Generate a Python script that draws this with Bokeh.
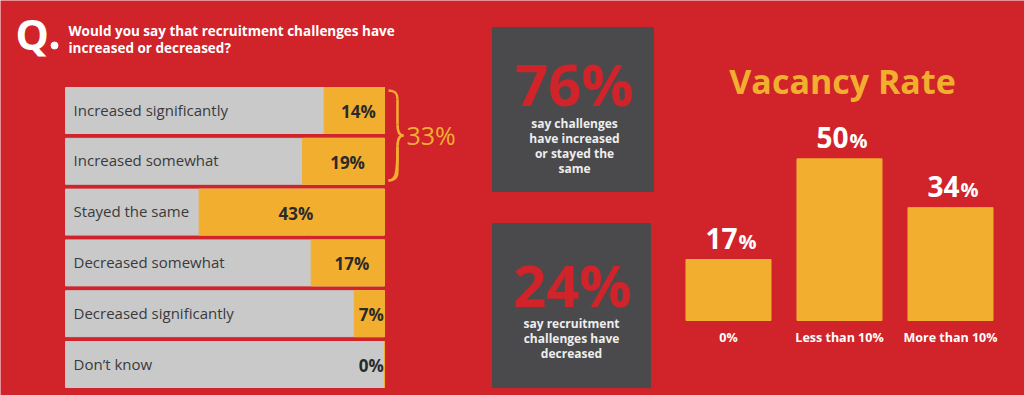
from bokeh.plotting import figure
from bokeh.models import Range1d, ColumnDataSource
from bokeh.core.properties import value
from bokeh.embed import file_html
from bokeh.resources import INLINE

# ---------------- data ----------------
question_lines = ["Would you say that recruitment challenges have", "increased or decreased?"]
answers = ["Increased significantly", "Increased somewhat", "Stayed the same",
           "Decreased somewhat", "Decreased significantly", "Don\u2019t know"]
answer_pct = [14, 19, 43, 17, 7, 0]
bracket_label = "33%"
stat_pct = ["76%", "24%"]
stat_notes = [["say challenges", "have increased", "or stayed the", "same"],
              ["say recruitment", "challenges have", "decreased"]]
vacancy_title = "Vacancy Rate"
vacancy_cats = ["0%", "Less than 10%", "More than 10%"]
vacancy_pct = [17, 50, 34]

# ---------------- style ----------------
RED = "#D1232A"
ORANGE = "#F2AF2F"
GRAY = "#C9C9CA"
DARK = "#4A4A4C"
TXT = "#2A2A2A"
FONT = value("Open Sans")

W, H = 1024, 395
p = figure(width=W, height=H, x_range=Range1d(0, W), y_range=Range1d(H, 0),
           output_backend="svg", toolbar_location=None, min_border=0,
           x_axis_location=None, y_axis_location=None,
           background_fill_color=RED, border_fill_color=RED, outline_line_color=None)
p.grid.visible = False

# ---------- header ----------
p.text(x=[15], y=[33], text=["Q"], text_font=FONT, text_font_style="bold",
       text_font_size="42px", text_color="white", text_baseline="middle")
p.scatter(x=[54], y=[45], size=7, color="white")
p.text(x=[68, 68], y=[30.5, 47.5], text=question_lines, text_font=FONT, text_font_style="bold",
       text_font_size="13.5px", text_color="white", text_baseline="middle")

# ---------- horizontal bars ----------
HX0, HX_PX = 384, 4.31
ROW0, ROW_PX = 110, 50.8
GRAY_SPAN = 74
p.extra_x_ranges["hx"] = Range1d((0 - HX0) / HX_PX, (W - HX0) / HX_PX)
p.extra_y_ranges["hy"] = Range1d((H - ROW0) / ROW_PX, (0 - ROW0) / ROW_PX)

hsrc = ColumnDataSource(dict(
    y=list(range(len(answers))),
    neg=[-v for v in answer_pct],
    lx=[-max(v, 8) / 2 for v in answer_pct],
    label=[f"{v}%" for v in answer_pct],
    ans=answers,
))
p.hbar(y="y", left=-GRAY_SPAN, right=0, height=0.905, source=hsrc, color=GRAY,
       x_range_name="hx", y_range_name="hy")
p.hbar(y="y", left="neg", right=0, height=0.905, source=hsrc, color=ORANGE,
       x_range_name="hx", y_range_name="hy")
p.text(x=-GRAY_SPAN, y="y", text="ans", source=hsrc, x_offset=8, y_offset=-1,
       text_font=FONT, text_font_size="15px", text_color="#3A3A3A",
       text_baseline="middle", x_range_name="hx", y_range_name="hy")
p.text(x="lx", y="y", text="label", source=hsrc, x_offset=4, y_offset=1,
       text_font=FONT, text_font_style="bold", text_font_size="17px", text_color=TXT,
       text_align="center", text_baseline="middle", x_range_name="hx", y_range_name="hy")

# bracket
bx = dict(line_color=ORANGE, line_width=2.5)
p.bezier(x0=[388, 397, 397, 403], y0=[90, 124, 146, 135],
         x1=[397, 403, 388, 397], y1=[99, 135, 180, 146],
         cx0=[395, 397, 397, 399], cy0=[90, 131, 175, 135],
         cx1=[397, 399, 395, 397], cy1=[93, 135, 180, 139], **bx)
p.segment(x0=[397, 397], y0=[99, 146], x1=[397, 397], y1=[124, 171], **bx)
p.bezier(x0=[397], y0=[171], x1=[388], y1=[180], cx0=[397], cy0=[177], cx1=[395], cy1=[180], **bx)
p.text(x=[406], y=[134], text=[bracket_label], text_font=FONT, text_font_size="25px",
       text_color=ORANGE, text_baseline="middle")

# ---------- stat boxes ----------
p.quad(left=[492, 492], right=[653, 650], top=[27, 223], bottom=[191, 387], color=DARK)
p.text(x=[574, 572], y=[83, 284], text=stat_pct, text_font=FONT, text_font_style="bold",
       text_font_size="58px", text_color=RED, text_align="center", text_baseline="middle")
for i, lines in enumerate(stat_notes):
    cx = [574, 571][i]
    y0 = [123, 323][i]
    p.text(x=[cx] * len(lines), y=[y0 + 15 * k for k in range(len(lines))], text=lines,
           text_font=FONT, text_font_style="bold", text_font_size="12px",
           text_color="#EEEEEE", text_align="center", text_baseline="middle")

# ---------- vacancy chart ----------
VX0, VX_PX = 728, 111
VY0, VY_PX = 320, 3.05
BAR_BASE = -3
p.extra_x_ranges["vx"] = Range1d((0 - VX0) / VX_PX, (W - VX0) / VX_PX)
p.extra_y_ranges["vy"] = Range1d(BAR_BASE + (VY0 - H) / VY_PX, BAR_BASE + (VY0 - 0) / VY_PX)

vsrc = ColumnDataSource(dict(x=list(range(len(vacancy_cats))), top=vacancy_pct,
                             num=[str(v) for v in vacancy_pct], cat=vacancy_cats))
p.vbar(x="x", top="top", bottom=BAR_BASE, width=0.766, source=vsrc, color=ORANGE,
       x_range_name="vx", y_range_name="vy")
p.text(x="x", y="top", text="num", source=vsrc, x_offset=9, y_offset=-21,
       text_font=FONT, text_font_style="bold", text_font_size="28px", text_color="white",
       text_align="right", text_baseline="middle", x_range_name="vx", y_range_name="vy")
p.text(x="x", y="top", text=value("%"), source=vsrc, x_offset=10, y_offset=-18,
       text_font=FONT, text_font_style="bold", text_font_size="20px", text_color="white",
       text_align="left", text_baseline="middle", x_range_name="vx", y_range_name="vy")
p.text(x="x", y=BAR_BASE, text="cat", source=vsrc, y_offset=17,
       text_font=FONT, text_font_style="bold", text_font_size="12.5px", text_color="white",
       text_align="center", text_baseline="middle", x_range_name="vx", y_range_name="vy")
p.text(x=[842], y=[80], text=[vacancy_title], text_font=FONT, text_font_style="bold",
       text_font_size="34px", text_color=ORANGE, text_align="center", text_baseline="middle")

open("out.html", "w").write(file_html(p, INLINE))
